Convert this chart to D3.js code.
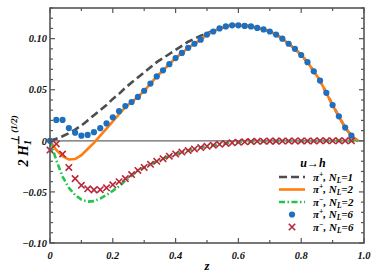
<!DOCTYPE html>
<html lang="en">
<head>
<meta charset="UTF-8">
<title>H1 perp (1/2)</title>
<script src="https://d3js.org/d3.v7.min.js"></script>
<style>
  body { margin: 0; background: #fff; }
</style>
</head>
<body>
<div id="chart"></div>
<script>
// grid for the curves (z = 0 .. 0.98, step 0.02) and the markers (0 .. 0.96)
const zLine = d3.range(0, 50).map(i => +(i * 0.02).toFixed(2));
const zMark = d3.range(0, 49).map(i => +(i * 0.02).toFixed(2));

const piPlusNL1 = [0, 0.002, 0.0045, 0.0075, 0.011, 0.015, 0.020, 0.025, 0.030, 0.035,
  0.041, 0.046, 0.052, 0.057, 0.062, 0.067, 0.072, 0.077, 0.081, 0.085,
  0.089, 0.093, 0.097, 0.100, 0.103, 0.105, 0.108, 0.110, 0.1115, 0.113,
  0.1135, 0.113, 0.112, 0.1105, 0.109, 0.107, 0.104, 0.100, 0.095, 0.090,
  0.084, 0.077, 0.068, 0.059, 0.047, 0.035, 0.024, 0.013, 0.005, 0];

const piPlusNL2 = [0, -0.009, -0.015, -0.0183, -0.0178, -0.014, -0.008, -0.002, 0.005, 0.012,
  0.019, 0.026, 0.033, 0.038, 0.043, 0.049, 0.056, 0.063, 0.069, 0.075,
  0.081, 0.086, 0.091, 0.095, 0.099, 0.104, 0.107, 0.110, 0.112, 0.113,
  0.113, 0.1125, 0.112, 0.1105, 0.109, 0.107, 0.104, 0.100, 0.095, 0.090,
  0.084, 0.077, 0.068, 0.059, 0.047, 0.035, 0.024, 0.013, 0.005, 0];

const piMinusNL2 = [0, -0.019, -0.035, -0.046, -0.053, -0.0575, -0.0595, -0.059, -0.0565, -0.053,
  -0.049, -0.0445, -0.039, -0.034, -0.029, -0.026, -0.023, -0.020, -0.0175, -0.015,
  -0.0128, -0.011, -0.0095, -0.008, -0.0066, -0.0054, -0.0043, -0.0034, -0.0026, -0.0019,
  -0.0014, -0.001, -0.0007, -0.0005, -0.0004, -0.0003, -0.0003, -0.0002, -0.0002, -0.0001,
  -0.0001, -0.0001, -0.0001, 0, 0, 0, 0, 0, 0, 0];

const piPlusNL6 = [0, 0.0205, 0.0205, 0.0125, 0.008, 0.005, 0.0058, 0.0085, 0.0124, 0.017,
  0.023, 0.029, 0.034, 0.038, 0.043, 0.049, 0.056, 0.063, 0.069, 0.075,
  0.081, 0.086, 0.091, 0.095, 0.099, 0.104, 0.107, 0.110, 0.112, 0.113,
  0.113, 0.1125, 0.112, 0.1105, 0.109, 0.107, 0.104, 0.100, 0.095, 0.090,
  0.084, 0.077, 0.068, 0.059, 0.047, 0.035, 0.024, 0.013, 0.005];

const piMinusNL6 = [-0.009, -0.003, -0.013, -0.026, -0.037, -0.0435, -0.047, -0.048, -0.0478, -0.046,
  -0.043, -0.040, -0.037, -0.033, -0.029, -0.026, -0.023, -0.020, -0.0175, -0.015,
  -0.0128, -0.011, -0.0095, -0.008, -0.0066, -0.0054, -0.0043, -0.0034, -0.0026, -0.0019,
  -0.0014, -0.001, -0.0007, -0.0005, -0.0004, -0.0003, -0.0003, -0.0002, -0.0002, -0.0001,
  -0.0001, -0.0001, -0.0001, 0, 0, 0, 0, 0, 0];

const xTicks = [0, 0.2, 0.4, 0.6, 0.8, 1.0];
const xTickLabels = ["0", "0.2", "0.4", "0.6", "0.8", "1.0"];
const yTicks = [-0.10, -0.05, 0, 0.05, 0.10];
const yTickLabels = ["\u22120.10", "\u22120.05", "0", "0.05", "0.10"];

const width = 374, height = 280;
const margin = { top: 8, right: 10, bottom: 37, left: 50 };

const svg = d3.select("#chart").append("svg")
  .attr("width", width)
  .attr("height", height)
  .attr("viewBox", [0, 0, width, height])
  .attr("font-family", "'Liberation Serif', 'Times New Roman', Times, serif")
  .attr("font-weight", "bold")
  .attr("font-style", "italic");

const x = d3.scaleLinear().domain([0, 1]).range([margin.left, width - margin.right]);
const y = d3.scaleLinear().domain([-0.10, 0.13]).range([height - margin.bottom, margin.top]);

const frame = "#555";

// zero line
svg.append("line")
  .attr("x1", x(0)).attr("x2", x(1))
  .attr("y1", y(0)).attr("y2", y(0))
  .attr("stroke", "#666").attr("stroke-width", 1.2);

// curves
const line = d3.line().x(d => x(d[0])).y(d => y(d[1]));
const curves = [
  { vals: piPlusNL1, color: "#4d4d4d", dash: "8,4" },
  { vals: piPlusNL2, color: "#ff7f0e", dash: null },
  { vals: piMinusNL2, color: "#22c44a", dash: "6,2.5,1.5,2.5" }
];
svg.append("g").attr("fill", "none")
  .selectAll("path")
  .data(curves)
  .join("path")
  .attr("d", c => line(zLine.map((z, i) => [z, c.vals[i]])))
  .attr("stroke", c => c.color)
  .attr("stroke-width", 2.6)
  .attr("stroke-dasharray", c => c.dash);

// blue dots
svg.append("g").attr("fill", "#1f6fbf")
  .selectAll("circle")
  .data(zMark.map((z, i) => [z, piPlusNL6[i]]))
  .join("circle")
  .attr("cx", d => x(d[0]))
  .attr("cy", d => y(d[1]))
  .attr("r", 3.1);

// red crosses
const s = 3.2;
svg.append("g").attr("stroke", "#b8283c").attr("stroke-width", 1.6)
  .selectAll("path")
  .data(zMark.map((z, i) => [z, piMinusNL6[i]]))
  .join("path")
  .attr("d", d => {
    const cx = x(d[0]), cy = y(d[1]);
    return `M${cx - s},${cy - s}L${cx + s},${cy + s}M${cx - s},${cy + s}L${cx + s},${cy - s}`;
  });

// axes (ticks pointing inward, on all four sides)
const xMinor = d3.range(0, 11).map(i => i / 10);
const yMinor = d3.range(-10, 14).map(i => i / 100);

const axes = svg.append("g").attr("stroke", frame);
axes.append("rect")
  .attr("x", x(0)).attr("y", y(0.13))
  .attr("width", x(1) - x(0)).attr("height", y(-0.10) - y(0.13))
  .attr("fill", "none").attr("stroke-width", 1.6);

xMinor.forEach(v => {
  const major = xTicks.some(t => Math.abs(t - v) < 1e-9);
  const len = major ? 5 : 3;
  axes.append("line").attr("x1", x(v)).attr("x2", x(v))
    .attr("y1", y(-0.10)).attr("y2", y(-0.10) - len).attr("stroke-width", 1.2);
  axes.append("line").attr("x1", x(v)).attr("x2", x(v))
    .attr("y1", y(0.13)).attr("y2", y(0.13) + len).attr("stroke-width", 1.2);
});
yMinor.forEach(v => {
  const major = yTicks.some(t => Math.abs(t - v) < 1e-9);
  const len = major ? 5 : 3;
  axes.append("line").attr("y1", y(v)).attr("y2", y(v))
    .attr("x1", x(0)).attr("x2", x(0) + len).attr("stroke-width", 1.2);
  axes.append("line").attr("y1", y(v)).attr("y2", y(v))
    .attr("x1", x(1)).attr("x2", x(1) - len).attr("stroke-width", 1.2);
});

// tick labels
svg.append("g").attr("font-size", 10.5).attr("fill", "#111")
  .selectAll("text")
  .data(xTicks)
  .join("text")
  .attr("x", d => x(d))
  .attr("y", y(-0.10) + 16)
  .attr("text-anchor", "middle")
  .text((d, i) => xTickLabels[i]);

svg.append("g").attr("font-size", 10.5).attr("fill", "#111")
  .selectAll("text")
  .data(yTicks)
  .join("text")
  .attr("x", x(0) - 3)
  .attr("y", d => y(d))
  .attr("dy", "0.35em")
  .attr("text-anchor", "end")
  .text((d, i) => yTickLabels[i]);

// axis titles
svg.append("text")
  .attr("x", (x(0) + x(1)) / 2)
  .attr("y", 270)
  .attr("text-anchor", "middle")
  .attr("font-size", 13)
  .text("z");

const yl = svg.append("text")
  .attr("transform", `translate(28,${y(0.0)}) rotate(-90)`)
  .attr("text-anchor", "middle")
  .attr("font-size", 14);
yl.append("tspan").text("2 H");
yl.append("tspan").attr("font-size", 10).attr("dy", 3).text("1");
yl.append("tspan").attr("font-size", 11).attr("dx", -5).attr("dy", -12).text("\u22A5");
yl.append("tspan").attr("font-size", 9).attr("dy", -2).text(" (1/2)");

// legend
const legendRows = [
  { sign: "+", nl: "1", type: "line", color: "#4d4d4d", dash: "8,4" },
  { sign: "+", nl: "2", type: "line", color: "#ff7f0e", dash: null },
  { sign: "\u2212", nl: "2", type: "line", color: "#22c44a", dash: "6,2.5,1.5,2.5" },
  { sign: "+", nl: "6", type: "dot", color: "#1f6fbf" },
  { sign: "\u2212", nl: "6", type: "cross", color: "#b8283c" }
];
const lg = svg.append("g");
lg.append("text").attr("x", 313).attr("y", 167).attr("text-anchor", "middle")
  .attr("font-size", 12).text("u\u2192h");
legendRows.forEach((r, i) => {
  const ry = 177 + i * 12.5;
  if (r.type === "line") {
    lg.append("line").attr("x1", 279).attr("x2", 305).attr("y1", ry).attr("y2", ry)
      .attr("stroke", r.color).attr("stroke-width", 2.6).attr("stroke-dasharray", r.dash);
  } else if (r.type === "dot") {
    lg.append("circle").attr("cx", 292).attr("cy", ry).attr("r", 3.1).attr("fill", r.color);
  } else {
    lg.append("path")
      .attr("d", `M${292 - s},${ry - s}L${292 + s},${ry + s}M${292 - s},${ry + s}L${292 + s},${ry - s}`)
      .attr("stroke", r.color).attr("stroke-width", 1.6);
  }
  const t = lg.append("text").attr("x", 313).attr("y", ry).attr("dy", "0.35em").attr("font-size", 11);
  t.append("tspan").text("\u03C0");
  t.append("tspan").attr("font-size", 7.5).attr("dy", -4).text(r.sign);
  t.append("tspan").attr("dy", 4).text(", N");
  t.append("tspan").attr("font-size", 7.5).attr("dy", 2).text("L");
  t.append("tspan").attr("dy", -2).text("=" + r.nl);
});
</script>
</body>
</html>
